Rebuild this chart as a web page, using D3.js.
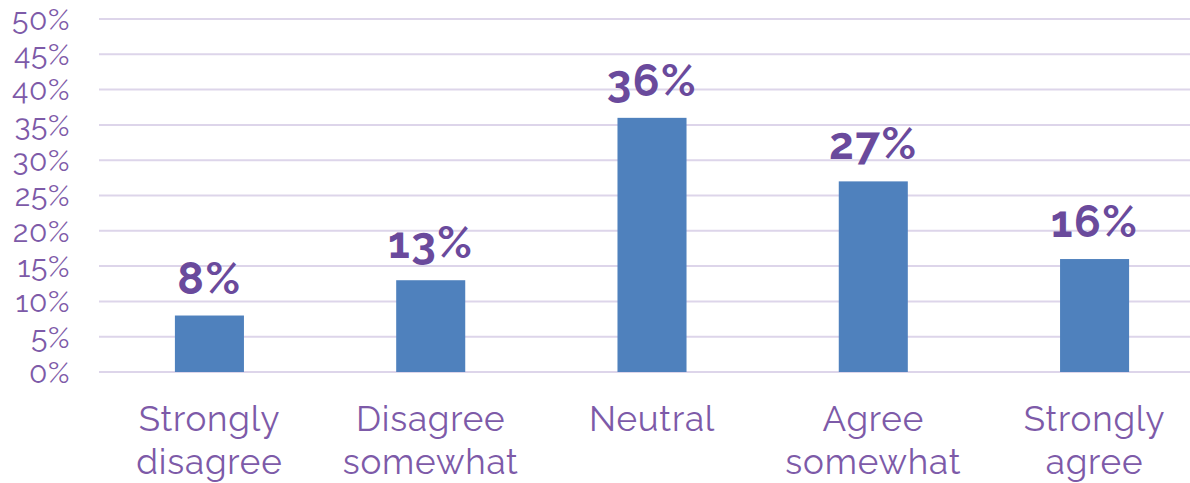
<!DOCTYPE html>
<html>
<head>
<meta charset="utf-8">
<script src="https://cdn.jsdelivr.net/npm/d3@7"></script>
<style>
  body { margin: 0; background: #fff; }
  svg { display: block; font-family: "Raleway", "Lato", "Noto Sans", sans-serif; }
  .grid line { stroke: #ddd5ea; stroke-width: 2; }
  .tick-label { fill: #7d5aa8; font-size: 30px; letter-spacing: 0.6px; }
  .cat-label { fill: #7d5aa8; font-size: 35px; letter-spacing: 0.8px; }
  .val-label { fill: #6a4a9c; font-size: 44px; font-weight: 700; letter-spacing: 1.5px; }
</style>
</head>
<body>
<div id="chart"></div>
<script>
const categories = [["Strongly", "disagree"], ["Disagree", "somewhat"], ["Neutral"], ["Agree", "somewhat"], ["Strongly", "agree"]];
const values = [8, 13, 36, 27, 16];
const yTicks = [0, 5, 10, 15, 20, 25, 30, 35, 40, 45, 50];

const width = 1190, height = 483;
const margin = { top: 19, right: 0, bottom: 111, left: 99 };

const svg = d3.select("#chart").append("svg")
  .attr("width", width)
  .attr("height", height);

const keys = categories.map(c => c.join(" "));

// band range runs a little past the right edge, as in the original
const x = d3.scaleBand()
  .domain(keys)
  .range([margin.left, 1205])
  .paddingInner(0.688)
  .paddingOuter(0.343);

const y = d3.scaleLinear()
  .domain([0, 50])
  .range([height - margin.bottom, margin.top]);

// gridlines
svg.append("g").attr("class", "grid")
  .selectAll("line")
  .data(yTicks)
  .join("line")
  .attr("x1", margin.left)
  .attr("x2", width - margin.right)
  .attr("y1", d => y(d))
  .attr("y2", d => y(d));

// y tick labels
svg.append("g")
  .selectAll("text")
  .data(yTicks)
  .join("text")
  .attr("class", "tick-label")
  .attr("x", 70)
  .attr("y", d => y(d))
  .attr("dy", "0.36em")
  .attr("text-anchor", "end")
  .text(d => d + "%");

// bars
svg.append("g")
  .selectAll("rect")
  .data(values)
  .join("rect")
  .attr("x", (d, i) => x(keys[i]))
  .attr("y", d => y(d))
  .attr("width", x.bandwidth())
  .attr("height", d => y(0) - y(d))
  .attr("fill", "#4f81bd");

// value labels
svg.append("g")
  .selectAll("text")
  .data(values)
  .join("text")
  .attr("class", "val-label")
  .attr("x", (d, i) => x(keys[i]) + x.bandwidth() / 2)
  .attr("y", d => y(d) - 22)
  .attr("text-anchor", "middle")
  .text(d => d + "%");

// category labels
const cat = svg.append("g")
  .selectAll("text")
  .data(categories)
  .join("text")
  .attr("class", "cat-label")
  .attr("text-anchor", "middle")
  .attr("x", (d, i) => x(keys[i]) + x.bandwidth() / 2)
  .attr("y", 431);

cat.selectAll("tspan")
  .data(d => d)
  .join("tspan")
  .attr("x", function() { return this.parentNode.getAttribute("x"); })
  .attr("dy", (d, i) => i === 0 ? 0 : 43)
  .text(d => d);
</script>
</body>
</html>
